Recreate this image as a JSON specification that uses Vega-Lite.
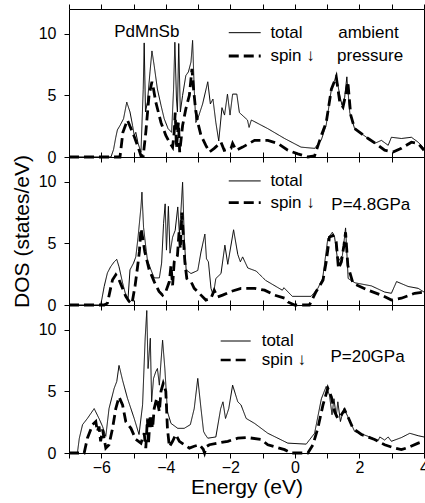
{
"$schema": "https://vega.github.io/schema/vega-lite/v6.json",
"padding": {"left": 10, "top": 3, "right": 0, "bottom": 0},
"config": {
  "font": "Liberation Sans",
  "view": {"stroke": "black", "strokeWidth": 1},
  "axis": {"domain": false, "grid": false, "ticks": true, "tickSize": 5, "tickColor": "black", "tickWidth": 1, "labelFontSize": 16, "labelColor": "black", "titleFontSize": 21, "titleFontWeight": "normal", "titleColor": "black", "labelFlush": false},
  "axisY": {"labelPadding": 8, "titlePadding": 6},
  "axisX": {"labelPadding": 1, "titlePadding": 1},
  "text": {"font": "Liberation Sans", "fontSize": 17, "color": "black"}
},
"datasets": {
"p1": [
{"E":-7,"d":0,"s":"total"},{"E":-5.70,"d":0,"s":"total"},{"E":-5.62,"d":0.6,"s":"total"},{"E":-5.55,"d":1.6,"s":"total"},{"E":-5.50,"d":2.2,"s":"total"},{"E":-5.42,"d":2.55,"s":"total"},{"E":-5.31,"d":3.1,"s":"total"},{"E":-5.21,"d":4.45,"s":"total"},{"E":-5.11,"d":3.65,"s":"total"},{"E":-5.03,"d":2.55,"s":"total"},{"E":-4.98,"d":1.75,"s":"total"},{"E":-4.93,"d":2.0,"s":"total"},{"E":-4.86,"d":1.1,"s":"total"},{"E":-4.77,"d":0.4,"s":"total"},{"E":-4.70,"d":5.5,"s":"total"},{"E":-4.67,"d":9.25,"s":"total"},{"E":-4.63,"d":3.65,"s":"total"},{"E":-4.57,"d":4.45,"s":"total"},{"E":-4.49,"d":6.9,"s":"total"},{"E":-4.43,"d":8.6,"s":"total"},{"E":-4.36,"d":7.4,"s":"total"},{"E":-4.26,"d":5.5,"s":"total"},{"E":-4.15,"d":4.2,"s":"total"},{"E":-4.05,"d":3.1,"s":"total"},{"E":-3.93,"d":2.3,"s":"total"},{"E":-3.82,"d":2.0,"s":"total"},{"E":-3.76,"d":5.5,"s":"total"},{"E":-3.72,"d":9.3,"s":"total"},{"E":-3.67,"d":4.7,"s":"total"},{"E":-3.64,"d":3.65,"s":"total"},{"E":-3.60,"d":9.2,"s":"total"},{"E":-3.55,"d":3.65,"s":"total"},{"E":-3.48,"d":5.0,"s":"total"},{"E":-3.38,"d":6.6,"s":"total"},{"E":-3.30,"d":6.9,"s":"total"},{"E":-3.22,"d":7.7,"s":"total"},{"E":-3.17,"d":9.45,"s":"total"},{"E":-3.12,"d":5.5,"s":"total"},{"E":-3.07,"d":2.8,"s":"total"},{"E":-3.01,"d":3.1,"s":"total"},{"E":-2.86,"d":4.3,"s":"total"},{"E":-2.70,"d":6.1,"s":"total"},{"E":-2.62,"d":4.3,"s":"total"},{"E":-2.54,"d":4.7,"s":"total"},{"E":-2.45,"d":2.8,"s":"total"},{"E":-2.36,"d":1.3,"s":"total"},{"E":-2.26,"d":4.0,"s":"total"},{"E":-2.18,"d":3.4,"s":"total"},{"E":-2.09,"d":5.1,"s":"total"},{"E":-2.01,"d":3.4,"s":"total"},{"E":-1.93,"d":5.1,"s":"total"},{"E":-1.80,"d":5.1,"s":"total"},{"E":-1.72,"d":3.6,"s":"total"},{"E":-1.47,"d":3.0,"s":"total"},{"E":-1.42,"d":2.4,"s":"total"},{"E":-1.35,"d":3.0,"s":"total"},{"E":-0.84,"d":2.3,"s":"total"},{"E":-0.32,"d":1.5,"s":"total"},{"E":0.19,"d":0.8,"s":"total"},{"E":0.61,"d":0.7,"s":"total"},{"E":0.82,"d":1.4,"s":"total"},{"E":0.97,"d":2.6,"s":"total"},{"E":1.13,"d":5.5,"s":"total"},{"E":1.28,"d":6.6,"s":"total"},{"E":1.39,"d":5.0,"s":"total"},{"E":1.46,"d":4.2,"s":"total"},{"E":1.54,"d":4.8,"s":"total"},{"E":1.61,"d":6.5,"s":"total"},{"E":1.70,"d":3.6,"s":"total"},{"E":1.85,"d":2.3,"s":"total"},{"E":2.27,"d":1.5,"s":"total"},{"E":2.47,"d":1.1,"s":"total"},{"E":2.68,"d":1.35,"s":"total"},{"E":2.89,"d":0.95,"s":"total"},{"E":2.99,"d":1.6,"s":"total"},{"E":3.30,"d":1.5,"s":"total"},{"E":3.61,"d":1.6,"s":"total"},{"E":3.82,"d":1.2,"s":"total"},{"E":4.0,"d":0.7,"s":"total"},
{"E":-7,"d":0,"s":"spin ↓"},{"E":-5.42,"d":0,"s":"spin ↓"},{"E":-5.33,"d":2.0,"s":"spin ↓"},{"E":-5.19,"d":3.0,"s":"spin ↓"},{"E":-5.08,"d":2.3,"s":"spin ↓"},{"E":-4.97,"d":1.6,"s":"spin ↓"},{"E":-4.88,"d":0.95,"s":"spin ↓"},{"E":-4.82,"d":0.5,"s":"spin ↓"},{"E":-4.77,"d":0.1,"s":"spin ↓"},{"E":-4.70,"d":0.1,"s":"spin ↓"},{"E":-4.62,"d":2.0,"s":"spin ↓"},{"E":-4.52,"d":5.0,"s":"spin ↓"},{"E":-4.43,"d":6.1,"s":"spin ↓"},{"E":-4.38,"d":5.5,"s":"spin ↓"},{"E":-4.31,"d":4.45,"s":"spin ↓"},{"E":-4.15,"d":2.8,"s":"spin ↓"},{"E":-4.00,"d":1.75,"s":"spin ↓"},{"E":-3.89,"d":1.2,"s":"spin ↓"},{"E":-3.79,"d":0.8,"s":"spin ↓"},{"E":-3.74,"d":2.0,"s":"spin ↓"},{"E":-3.71,"d":3.6,"s":"spin ↓"},{"E":-3.67,"d":0.7,"s":"spin ↓"},{"E":-3.61,"d":2.8,"s":"spin ↓"},{"E":-3.57,"d":0.4,"s":"spin ↓"},{"E":-3.48,"d":2.55,"s":"spin ↓"},{"E":-3.38,"d":3.9,"s":"spin ↓"},{"E":-3.27,"d":5.0,"s":"spin ↓"},{"E":-3.19,"d":7.15,"s":"spin ↓"},{"E":-3.14,"d":5.5,"s":"spin ↓"},{"E":-3.08,"d":3.9,"s":"spin ↓"},{"E":-3.01,"d":2.8,"s":"spin ↓"},{"E":-2.91,"d":1.75,"s":"spin ↓"},{"E":-2.76,"d":0.95,"s":"spin ↓"},{"E":-2.65,"d":0.4,"s":"spin ↓"},{"E":-2.50,"d":0.7,"s":"spin ↓"},{"E":-2.29,"d":1.2,"s":"spin ↓"},{"E":-2.19,"d":0.55,"s":"spin ↓"},{"E":-1.98,"d":0.7,"s":"spin ↓"},{"E":-1.93,"d":1.1,"s":"spin ↓"},{"E":-1.82,"d":0.55,"s":"spin ↓"},{"E":-1.62,"d":0.8,"s":"spin ↓"},{"E":-1.25,"d":1.35,"s":"spin ↓"},{"E":-0.84,"d":1.35,"s":"spin ↓"},{"E":-0.53,"d":1.1,"s":"spin ↓"},{"E":-0.22,"d":0.55,"s":"spin ↓"},{"E":0.09,"d":0.25,"s":"spin ↓"},{"E":0.40,"d":0,"s":"spin ↓"},{"E":0.61,"d":0.1,"s":"spin ↓"},{"E":0.82,"d":1.75,"s":"spin ↓"},{"E":0.97,"d":2.8,"s":"spin ↓"},{"E":1.13,"d":5.5,"s":"spin ↓"},{"E":1.28,"d":6.5,"s":"spin ↓"},{"E":1.39,"d":4.45,"s":"spin ↓"},{"E":1.49,"d":4.05,"s":"spin ↓"},{"E":1.59,"d":5.25,"s":"spin ↓"},{"E":1.64,"d":6.1,"s":"spin ↓"},{"E":1.73,"d":3.4,"s":"spin ↓"},{"E":1.85,"d":2.3,"s":"spin ↓"},{"E":2.27,"d":1.5,"s":"spin ↓"},{"E":2.58,"d":0.95,"s":"spin ↓"},{"E":2.78,"d":0.55,"s":"spin ↓"},{"E":3.04,"d":0.4,"s":"spin ↓"},{"E":3.30,"d":0.7,"s":"spin ↓"},{"E":3.61,"d":1.2,"s":"spin ↓"},{"E":3.82,"d":1.1,"s":"spin ↓"},{"E":4.0,"d":0.55,"s":"spin ↓"}
],
"p2": [
{"E":-7,"d":0,"s":"total"},{"E":-6.02,"d":0,"s":"total"},{"E":-5.98,"d":0.5,"s":"total"},{"E":-5.91,"d":1.5,"s":"total"},{"E":-5.81,"d":2.6,"s":"total"},{"E":-5.71,"d":3.1,"s":"total"},{"E":-5.60,"d":3.5,"s":"total"},{"E":-5.52,"d":3.7,"s":"total"},{"E":-5.45,"d":3.1,"s":"total"},{"E":-5.34,"d":1.8,"s":"total"},{"E":-5.24,"d":0.8,"s":"total"},{"E":-5.17,"d":0.55,"s":"total"},{"E":-5.11,"d":2.85,"s":"total"},{"E":-5.00,"d":3.4,"s":"total"},{"E":-4.93,"d":3.9,"s":"total"},{"E":-4.86,"d":5.5,"s":"total"},{"E":-4.77,"d":7.95,"s":"total"},{"E":-4.74,"d":9.15,"s":"total"},{"E":-4.69,"d":6.3,"s":"total"},{"E":-4.62,"d":4.7,"s":"total"},{"E":-4.57,"d":3.65,"s":"total"},{"E":-4.46,"d":2.85,"s":"total"},{"E":-4.36,"d":2.2,"s":"total"},{"E":-4.20,"d":2.2,"s":"total"},{"E":-4.13,"d":3.4,"s":"total"},{"E":-4.07,"d":6.6,"s":"total"},{"E":-4.02,"d":8.2,"s":"total"},{"E":-3.98,"d":4.45,"s":"total"},{"E":-3.92,"d":8.0,"s":"total"},{"E":-3.87,"d":4.2,"s":"total"},{"E":-3.79,"d":5.5,"s":"total"},{"E":-3.71,"d":6.05,"s":"total"},{"E":-3.63,"d":7.95,"s":"total"},{"E":-3.58,"d":5.8,"s":"total"},{"E":-3.53,"d":7.7,"s":"total"},{"E":-3.48,"d":9.95,"s":"total"},{"E":-3.43,"d":5.5,"s":"total"},{"E":-3.37,"d":2.85,"s":"total"},{"E":-3.22,"d":2.55,"s":"total"},{"E":-3.01,"d":2.8,"s":"total"},{"E":-2.91,"d":4.3,"s":"total"},{"E":-2.79,"d":5.75,"s":"total"},{"E":-2.74,"d":3.75,"s":"total"},{"E":-2.68,"d":3.5,"s":"total"},{"E":-2.60,"d":1.35,"s":"total"},{"E":-2.53,"d":0.8,"s":"total"},{"E":-2.45,"d":2.15,"s":"total"},{"E":-2.29,"d":2.55,"s":"total"},{"E":-2.17,"d":4.85,"s":"total"},{"E":-2.08,"d":3.3,"s":"total"},{"E":-1.90,"d":6.1,"s":"total"},{"E":-1.77,"d":4.1,"s":"total"},{"E":-1.69,"d":3.5,"s":"total"},{"E":-1.62,"d":3.9,"s":"total"},{"E":-1.46,"d":3.0,"s":"total"},{"E":-1.20,"d":2.75,"s":"total"},{"E":-0.91,"d":2.0,"s":"total"},{"E":-0.39,"d":1.2,"s":"total"},{"E":-0.34,"d":1.4,"s":"total"},{"E":-0.08,"d":0.7,"s":"total"},{"E":0.50,"d":0.7,"s":"total"},{"E":0.71,"d":1.35,"s":"total"},{"E":0.86,"d":2.15,"s":"total"},{"E":1.02,"d":5.4,"s":"total"},{"E":1.16,"d":5.9,"s":"total"},{"E":1.23,"d":5.5,"s":"total"},{"E":1.33,"d":3.5,"s":"total"},{"E":1.47,"d":4.0,"s":"total"},{"E":1.52,"d":5.1,"s":"total"},{"E":1.57,"d":6.25,"s":"total"},{"E":1.65,"d":2.15,"s":"total"},{"E":1.86,"d":1.8,"s":"total"},{"E":2.37,"d":1.55,"s":"total"},{"E":2.78,"d":1.05,"s":"total"},{"E":2.99,"d":0.95,"s":"total"},{"E":3.15,"d":1.9,"s":"total"},{"E":3.51,"d":1.5,"s":"total"},{"E":3.82,"d":1.35,"s":"total"},{"E":4.0,"d":1.05,"s":"total"},
{"E":-7,"d":0,"s":"spin ↓"},{"E":-5.91,"d":0,"s":"spin ↓"},{"E":-5.81,"d":0.15,"s":"spin ↓"},{"E":-5.72,"d":1.25,"s":"spin ↓"},{"E":-5.65,"d":2.05,"s":"spin ↓"},{"E":-5.55,"d":2.45,"s":"spin ↓"},{"E":-5.45,"d":2.05,"s":"spin ↓"},{"E":-5.34,"d":1.35,"s":"spin ↓"},{"E":-5.24,"d":0.7,"s":"spin ↓"},{"E":-5.14,"d":0.3,"s":"spin ↓"},{"E":-5.05,"d":0.1,"s":"spin ↓"},{"E":-4.95,"d":1.6,"s":"spin ↓"},{"E":-4.88,"d":3.0,"s":"spin ↓"},{"E":-4.82,"d":4.3,"s":"spin ↓"},{"E":-4.77,"d":6.2,"s":"spin ↓"},{"E":-4.72,"d":5.5,"s":"spin ↓"},{"E":-4.65,"d":4.3,"s":"spin ↓"},{"E":-4.52,"d":2.9,"s":"spin ↓"},{"E":-4.36,"d":1.9,"s":"spin ↓"},{"E":-4.21,"d":1.1,"s":"spin ↓"},{"E":-4.10,"d":0.8,"s":"spin ↓"},{"E":-4.00,"d":1.1,"s":"spin ↓"},{"E":-3.89,"d":1.9,"s":"spin ↓"},{"E":-3.84,"d":3.2,"s":"spin ↓"},{"E":-3.79,"d":1.6,"s":"spin ↓"},{"E":-3.74,"d":3.5,"s":"spin ↓"},{"E":-3.64,"d":4.0,"s":"spin ↓"},{"E":-3.59,"d":5.9,"s":"spin ↓"},{"E":-3.55,"d":4.55,"s":"spin ↓"},{"E":-3.50,"d":7.5,"s":"spin ↓"},{"E":-3.46,"d":5.65,"s":"spin ↓"},{"E":-3.41,"d":3.5,"s":"spin ↓"},{"E":-3.35,"d":2.15,"s":"spin ↓"},{"E":-3.22,"d":1.9,"s":"spin ↓"},{"E":-3.12,"d":1.35,"s":"spin ↓"},{"E":-2.91,"d":0.8,"s":"spin ↓"},{"E":-2.76,"d":0.4,"s":"spin ↓"},{"E":-2.60,"d":0.55,"s":"spin ↓"},{"E":-2.50,"d":1.2,"s":"spin ↓"},{"E":-2.40,"d":0.65,"s":"spin ↓"},{"E":-2.24,"d":0.8,"s":"spin ↓"},{"E":-1.98,"d":1.1,"s":"spin ↓"},{"E":-1.67,"d":1.35,"s":"spin ↓"},{"E":-1.25,"d":1.35,"s":"spin ↓"},{"E":-0.94,"d":1.2,"s":"spin ↓"},{"E":-0.63,"d":0.8,"s":"spin ↓"},{"E":-0.32,"d":0.55,"s":"spin ↓"},{"E":-0.22,"d":0.25,"s":"spin ↓"},{"E":-0.01,"d":0,"s":"spin ↓"},{"E":0.45,"d":0,"s":"spin ↓"},{"E":0.66,"d":1.1,"s":"spin ↓"},{"E":0.87,"d":2.0,"s":"spin ↓"},{"E":0.97,"d":3.5,"s":"spin ↓"},{"E":1.07,"d":5.5,"s":"spin ↓"},{"E":1.18,"d":5.65,"s":"spin ↓"},{"E":1.28,"d":5.1,"s":"spin ↓"},{"E":1.35,"d":2.95,"s":"spin ↓"},{"E":1.44,"d":3.5,"s":"spin ↓"},{"E":1.52,"d":4.85,"s":"spin ↓"},{"E":1.57,"d":5.9,"s":"spin ↓"},{"E":1.64,"d":3.2,"s":"spin ↓"},{"E":1.80,"d":1.75,"s":"spin ↓"},{"E":2.27,"d":1.2,"s":"spin ↓"},{"E":2.68,"d":0.8,"s":"spin ↓"},{"E":2.99,"d":0.4,"s":"spin ↓"},{"E":3.30,"d":0.55,"s":"spin ↓"},{"E":3.71,"d":0.95,"s":"spin ↓"},{"E":4.0,"d":1.05,"s":"spin ↓"}
],
"p3": [
{"E":-7,"d":0,"s":"total"},{"E":-6.74,"d":0,"s":"total"},{"E":-6.68,"d":1.2,"s":"total"},{"E":-6.58,"d":2.3,"s":"total"},{"E":-6.43,"d":2.8,"s":"total"},{"E":-6.22,"d":3.6,"s":"total"},{"E":-6.07,"d":2.8,"s":"total"},{"E":-5.96,"d":2.15,"s":"total"},{"E":-5.86,"d":1.35,"s":"total"},{"E":-5.76,"d":3.6,"s":"total"},{"E":-5.60,"d":5.25,"s":"total"},{"E":-5.52,"d":5.8,"s":"total"},{"E":-5.45,"d":7.1,"s":"total"},{"E":-5.34,"d":5.9,"s":"total"},{"E":-5.19,"d":4.45,"s":"total"},{"E":-4.98,"d":2.8,"s":"total"},{"E":-4.83,"d":1.5,"s":"total"},{"E":-4.72,"d":3.9,"s":"total"},{"E":-4.64,"d":9.3,"s":"total"},{"E":-4.59,"d":11.55,"s":"total"},{"E":-4.55,"d":6.85,"s":"total"},{"E":-4.48,"d":9.3,"s":"total"},{"E":-4.44,"d":4.15,"s":"total"},{"E":-4.38,"d":6.05,"s":"total"},{"E":-4.31,"d":6.6,"s":"total"},{"E":-4.26,"d":6.85,"s":"total"},{"E":-4.20,"d":5.5,"s":"total"},{"E":-4.15,"d":7.4,"s":"total"},{"E":-4.10,"d":9.15,"s":"total"},{"E":-4.03,"d":6.85,"s":"total"},{"E":-3.95,"d":3.35,"s":"total"},{"E":-3.84,"d":2.4,"s":"total"},{"E":-3.63,"d":2.0,"s":"total"},{"E":-3.43,"d":2.0,"s":"total"},{"E":-3.24,"d":2.3,"s":"total"},{"E":-3.12,"d":3.6,"s":"total"},{"E":-3.01,"d":6.05,"s":"total"},{"E":-2.91,"d":3.6,"s":"total"},{"E":-2.83,"d":1.75,"s":"total"},{"E":-2.78,"d":1.5,"s":"total"},{"E":-2.70,"d":1.2,"s":"total"},{"E":-2.45,"d":1.3,"s":"total"},{"E":-2.30,"d":3.6,"s":"total"},{"E":-2.23,"d":4.15,"s":"total"},{"E":-2.15,"d":2.8,"s":"total"},{"E":-2.05,"d":3.6,"s":"total"},{"E":-1.93,"d":5.5,"s":"total"},{"E":-1.77,"d":4.15,"s":"total"},{"E":-1.67,"d":3.9,"s":"total"},{"E":-1.51,"d":2.8,"s":"total"},{"E":-1.25,"d":2.4,"s":"total"},{"E":-0.84,"d":1.6,"s":"total"},{"E":-0.22,"d":0.8,"s":"total"},{"E":0.35,"d":0.72,"s":"total"},{"E":0.61,"d":1.6,"s":"total"},{"E":0.82,"d":4.4,"s":"total"},{"E":0.97,"d":5.4,"s":"total"},{"E":1.07,"d":4.7,"s":"total"},{"E":1.15,"d":3.1,"s":"total"},{"E":1.21,"d":4.4,"s":"total"},{"E":1.28,"d":2.95,"s":"total"},{"E":1.33,"d":4.15,"s":"total"},{"E":1.41,"d":2.55,"s":"total"},{"E":1.52,"d":3.6,"s":"total"},{"E":1.64,"d":2.95,"s":"total"},{"E":1.85,"d":1.75,"s":"total"},{"E":2.27,"d":1.35,"s":"total"},{"E":2.58,"d":1.0,"s":"total"},{"E":2.63,"d":1.3,"s":"total"},{"E":2.78,"d":1.05,"s":"total"},{"E":2.89,"d":1.3,"s":"total"},{"E":2.99,"d":0.95,"s":"total"},{"E":3.30,"d":1.25,"s":"total"},{"E":3.56,"d":1.6,"s":"total"},{"E":3.82,"d":1.4,"s":"total"},{"E":4.0,"d":1.3,"s":"total"},
{"E":-7,"d":0,"s":"spin ↓"},{"E":-6.53,"d":0,"s":"spin ↓"},{"E":-6.43,"d":1.2,"s":"spin ↓"},{"E":-6.27,"d":2.3,"s":"spin ↓"},{"E":-6.17,"d":2.55,"s":"spin ↓"},{"E":-6.12,"d":1.75,"s":"spin ↓"},{"E":-6.07,"d":2.15,"s":"spin ↓"},{"E":-6.02,"d":0.95,"s":"spin ↓"},{"E":-5.96,"d":1.9,"s":"spin ↓"},{"E":-5.86,"d":0.4,"s":"spin ↓"},{"E":-5.76,"d":0.67,"s":"spin ↓"},{"E":-5.65,"d":2.0,"s":"spin ↓"},{"E":-5.55,"d":3.6,"s":"spin ↓"},{"E":-5.45,"d":4.55,"s":"spin ↓"},{"E":-5.34,"d":3.9,"s":"spin ↓"},{"E":-5.24,"d":2.55,"s":"spin ↓"},{"E":-5.08,"d":2.0,"s":"spin ↓"},{"E":-4.93,"d":1.1,"s":"spin ↓"},{"E":-4.77,"d":0.8,"s":"spin ↓"},{"E":-4.67,"d":1.6,"s":"spin ↓"},{"E":-4.62,"d":0.4,"s":"spin ↓"},{"E":-4.57,"d":2.8,"s":"spin ↓"},{"E":-4.54,"d":0.67,"s":"spin ↓"},{"E":-4.48,"d":3.1,"s":"spin ↓"},{"E":-4.41,"d":2.0,"s":"spin ↓"},{"E":-4.36,"d":3.6,"s":"spin ↓"},{"E":-4.28,"d":4.45,"s":"spin ↓"},{"E":-4.20,"d":3.35,"s":"spin ↓"},{"E":-4.15,"d":5.0,"s":"spin ↓"},{"E":-4.08,"d":5.65,"s":"spin ↓"},{"E":-4.00,"d":5.0,"s":"spin ↓"},{"E":-3.95,"d":2.0,"s":"spin ↓"},{"E":-3.89,"d":0.5,"s":"spin ↓"},{"E":-3.79,"d":0.95,"s":"spin ↓"},{"E":-3.69,"d":1.5,"s":"spin ↓"},{"E":-3.58,"d":0.95,"s":"spin ↓"},{"E":-3.43,"d":0.67,"s":"spin ↓"},{"E":-3.27,"d":0.4,"s":"spin ↓"},{"E":-3.12,"d":0.55,"s":"spin ↓"},{"E":-2.96,"d":0.67,"s":"spin ↓"},{"E":-2.84,"d":0.3,"s":"spin ↓"},{"E":-2.80,"d":0,"s":"spin ↓"},{"E":-2.75,"d":0.5,"s":"spin ↓"},{"E":-2.65,"d":0.67,"s":"spin ↓"},{"E":-2.39,"d":0.8,"s":"spin ↓"},{"E":-2.08,"d":0.95,"s":"spin ↓"},{"E":-1.77,"d":1.2,"s":"spin ↓"},{"E":-1.46,"d":1.25,"s":"spin ↓"},{"E":-1.05,"d":1.1,"s":"spin ↓"},{"E":-0.84,"d":0.67,"s":"spin ↓"},{"E":-0.32,"d":0.27,"s":"spin ↓"},{"E":-0.11,"d":0,"s":"spin ↓"},{"E":0.40,"d":0,"s":"spin ↓"},{"E":0.56,"d":0.67,"s":"spin ↓"},{"E":0.71,"d":2.0,"s":"spin ↓"},{"E":0.87,"d":3.9,"s":"spin ↓"},{"E":1.02,"d":5.25,"s":"spin ↓"},{"E":1.13,"d":4.55,"s":"spin ↓"},{"E":1.23,"d":3.35,"s":"spin ↓"},{"E":1.33,"d":2.8,"s":"spin ↓"},{"E":1.44,"d":3.1,"s":"spin ↓"},{"E":1.54,"d":3.5,"s":"spin ↓"},{"E":1.64,"d":2.95,"s":"spin ↓"},{"E":1.80,"d":2.0,"s":"spin ↓"},{"E":2.06,"d":1.5,"s":"spin ↓"},{"E":2.47,"d":1.1,"s":"spin ↓"},{"E":2.78,"d":0.67,"s":"spin ↓"},{"E":3.09,"d":0.4,"s":"spin ↓"},{"E":3.30,"d":0.27,"s":"spin ↓"},{"E":3.51,"d":0.45,"s":"spin ↓"},{"E":3.82,"d":0.8,"s":"spin ↓"},{"E":4.0,"d":0.95,"s":"spin ↓"}
]
},
"spacing": 0,
"bounds": "flush",
"vconcat": [
{
 "width": 355, "height": 148,
 "resolve": {"axis": {"x": "independent", "y": "independent"}},
 "layer": [
  {"data": {"name": "p1"}, "mark": {"type": "line", "color": "black", "strokeCap": "butt"},
   "encoding": {
    "x": {"field": "E", "type": "quantitative", "scale": {"domain": [-7, 4], "nice": false}, "axis": {"values": [-7,-6,-5,-4,-3,-2,-1,0,1,2,3,4], "labels": false, "title": null}},
    "y": {"field": "d", "type": "quantitative", "scale": {"domain": [0, 12], "nice": false}, "axis": {"values": [0, 5, 10], "title": null}},
    "strokeDash": {"field": "s", "type": "nominal", "scale": {"domain": ["total", "spin ↓"], "range": [[1, 0], [10, 5]]}, "legend": null},
    "strokeWidth": {"field": "s", "type": "nominal", "scale": {"domain": ["total", "spin ↓"], "range": [1, 2.8]}, "legend": null}
   }},
  {"data": {"values": [{}]}, "mark": {"type": "point", "opacity": 0},
   "encoding": {
    "x": {"datum": 0, "type": "quantitative", "scale": {"domain": [-7, 4], "nice": false}, "axis": {"orient": "top", "values": [-7,-6,-5,-4,-3,-2,-1,0,1,2,3,4], "labels": false, "title": null}},
    "y": {"datum": 0, "type": "quantitative", "scale": {"domain": [0, 12], "nice": false}, "axis": {"orient": "right", "values": [0, 5, 10], "labels": false, "title": null}}
   }},
  {"data": {"values": [{}]}, "mark": {"type": "rule", "color": "black", "strokeWidth": 1},
   "encoding": {"x": {"datum": -2.05, "type": "quantitative", "axis": null}, "x2": {"datum": -1.06}, "y": {"datum": 10.08, "type": "quantitative", "axis": null}}},
  {"data": {"values": [{}]}, "mark": {"type": "rule", "color": "black", "strokeWidth": 2.8, "strokeDash": [10, 5]},
   "encoding": {"x": {"datum": -2.05, "type": "quantitative", "axis": null}, "x2": {"datum": -1.06}, "y": {"datum": 8.19, "type": "quantitative", "axis": null}}},
  {"data": {"values": [{}]}, "mark": {"type": "text", "text": "total", "align": "left", "baseline": "middle"},
   "encoding": {"x": {"datum": -0.76, "type": "quantitative", "axis": null}, "y": {"datum": 10.08, "type": "quantitative", "axis": null}}},
  {"data": {"values": [{}]}, "mark": {"type": "text", "text": "spin ↓", "align": "left", "baseline": "middle"},
   "encoding": {"x": {"datum": -0.76, "type": "quantitative", "axis": null}, "y": {"datum": 8.19, "type": "quantitative", "axis": null}}},
  {"data": {"values": [{}]}, "mark": {"type": "text", "text": "PdMnSb", "align": "center", "baseline": "middle"},
   "encoding": {"x": {"datum": -4.59, "type": "quantitative", "axis": null}, "y": {"datum": 10.15, "type": "quantitative", "axis": null}}},
  {"data": {"values": [{}]}, "mark": {"type": "text", "text": "ambient", "align": "center", "baseline": "middle"},
   "encoding": {"x": {"datum": 2.28, "type": "quantitative", "axis": null}, "y": {"datum": 10.08, "type": "quantitative", "axis": null}}},
  {"data": {"values": [{}]}, "mark": {"type": "text", "text": "pressure", "align": "center", "baseline": "middle"},
   "encoding": {"x": {"datum": 2.33, "type": "quantitative", "axis": null}, "y": {"datum": 8.19, "type": "quantitative", "axis": null}}}
 ]
},
{
 "width": 355, "height": 148,
 "resolve": {"axis": {"x": "independent", "y": "independent"}},
 "layer": [
  {"data": {"name": "p2"}, "mark": {"type": "line", "color": "black", "strokeCap": "butt"},
   "encoding": {
    "x": {"field": "E", "type": "quantitative", "scale": {"domain": [-7, 4], "nice": false}, "axis": {"values": [-7,-6,-5,-4,-3,-2,-1,0,1,2,3,4], "labels": false, "title": null}},
    "y": {"field": "d", "type": "quantitative", "scale": {"domain": [0, 12], "nice": false}, "axis": {"values": [0, 5, 10], "title": "DOS (states/eV)"}},
    "strokeDash": {"field": "s", "type": "nominal", "scale": {"domain": ["total", "spin ↓"], "range": [[1, 0], [10, 5]]}, "legend": null},
    "strokeWidth": {"field": "s", "type": "nominal", "scale": {"domain": ["total", "spin ↓"], "range": [1, 2.8]}, "legend": null}
   }},
  {"data": {"values": [{}]}, "mark": {"type": "point", "opacity": 0},
   "encoding": {
    "x": {"datum": 0, "type": "quantitative", "scale": {"domain": [-7, 4], "nice": false}, "axis": {"orient": "top", "values": [-7,-6,-5,-4,-3,-2,-1,0,1,2,3,4], "labels": false, "title": null}},
    "y": {"datum": 0, "type": "quantitative", "scale": {"domain": [0, 12], "nice": false}, "axis": {"orient": "right", "values": [0, 5, 10], "labels": false, "title": null}}
   }},
  {"data": {"values": [{}]}, "mark": {"type": "rule", "color": "black", "strokeWidth": 1},
   "encoding": {"x": {"datum": -2.05, "type": "quantitative", "axis": null}, "x2": {"datum": -1.06}, "y": {"datum": 10.06, "type": "quantitative", "axis": null}}},
  {"data": {"values": [{}]}, "mark": {"type": "rule", "color": "black", "strokeWidth": 2.8, "strokeDash": [10, 5]},
   "encoding": {"x": {"datum": -2.05, "type": "quantitative", "axis": null}, "x2": {"datum": -1.06}, "y": {"datum": 8.3, "type": "quantitative", "axis": null}}},
  {"data": {"values": [{}]}, "mark": {"type": "text", "text": "total", "align": "left", "baseline": "middle"},
   "encoding": {"x": {"datum": -0.76, "type": "quantitative", "axis": null}, "y": {"datum": 10.06, "type": "quantitative", "axis": null}}},
  {"data": {"values": [{}]}, "mark": {"type": "text", "text": "spin ↓", "align": "left", "baseline": "middle"},
   "encoding": {"x": {"datum": -0.76, "type": "quantitative", "axis": null}, "y": {"datum": 8.3, "type": "quantitative", "axis": null}}},
  {"data": {"values": [{}]}, "mark": {"type": "text", "text": "P=4.8GPa", "align": "center", "baseline": "middle"},
   "encoding": {"x": {"datum": 2.35, "type": "quantitative", "axis": null}, "y": {"datum": 8.1, "type": "quantitative", "axis": null}}}
 ]
},
{
 "width": 355, "height": 148,
 "resolve": {"axis": {"x": "independent", "y": "independent"}},
 "layer": [
  {"data": {"name": "p3"}, "mark": {"type": "line", "color": "black", "strokeCap": "butt"},
   "encoding": {
    "x": {"field": "E", "type": "quantitative", "scale": {"domain": [-7, 4], "nice": false}, "axis": {"values": [-7,-6,-5,-4,-3,-2,-1,0,1,2,3,4], "labelExpr": "datum.value % 2 == 0 ? datum.label : ''", "title": "Energy (eV)"}},
    "y": {"field": "d", "type": "quantitative", "scale": {"domain": [0, 12], "nice": false}, "axis": {"values": [0, 5, 10], "title": null}},
    "strokeDash": {"field": "s", "type": "nominal", "scale": {"domain": ["total", "spin ↓"], "range": [[1, 0], [10, 5]]}, "legend": null},
    "strokeWidth": {"field": "s", "type": "nominal", "scale": {"domain": ["total", "spin ↓"], "range": [1, 2.4]}, "legend": null}
   }},
  {"data": {"values": [{}]}, "mark": {"type": "point", "opacity": 0},
   "encoding": {
    "x": {"datum": 0, "type": "quantitative", "scale": {"domain": [-7, 4], "nice": false}, "axis": {"orient": "top", "values": [-7,-6,-5,-4,-3,-2,-1,0,1,2,3,4], "labels": false, "title": null}},
    "y": {"datum": 0, "type": "quantitative", "scale": {"domain": [0, 12], "nice": false}, "axis": {"orient": "right", "values": [0, 5, 10], "labels": false, "title": null}}
   }},
  {"data": {"values": [{}]}, "mark": {"type": "rule", "color": "black", "strokeWidth": 1},
   "encoding": {"x": {"datum": -2.30, "type": "quantitative", "axis": null}, "x2": {"datum": -1.37}, "y": {"datum": 9.08, "type": "quantitative", "axis": null}}},
  {"data": {"values": [{}]}, "mark": {"type": "rule", "color": "black", "strokeWidth": 2.4, "strokeDash": [10, 5]},
   "encoding": {"x": {"datum": -2.30, "type": "quantitative", "axis": null}, "x2": {"datum": -1.37}, "y": {"datum": 7.54, "type": "quantitative", "axis": null}}},
  {"data": {"values": [{}]}, "mark": {"type": "text", "text": "total", "align": "left", "baseline": "middle"},
   "encoding": {"x": {"datum": -1.03, "type": "quantitative", "axis": null}, "y": {"datum": 9.08, "type": "quantitative", "axis": null}}},
  {"data": {"values": [{}]}, "mark": {"type": "text", "text": "spin ↓", "align": "left", "baseline": "middle"},
   "encoding": {"x": {"datum": -1.03, "type": "quantitative", "axis": null}, "y": {"datum": 7.54, "type": "quantitative", "axis": null}}},
  {"data": {"values": [{}]}, "mark": {"type": "text", "text": "P=20GPa", "align": "center", "baseline": "middle"},
   "encoding": {"x": {"datum": 2.25, "type": "quantitative", "axis": null}, "y": {"datum": 7.8, "type": "quantitative", "axis": null}}}
 ]
}
]
}
